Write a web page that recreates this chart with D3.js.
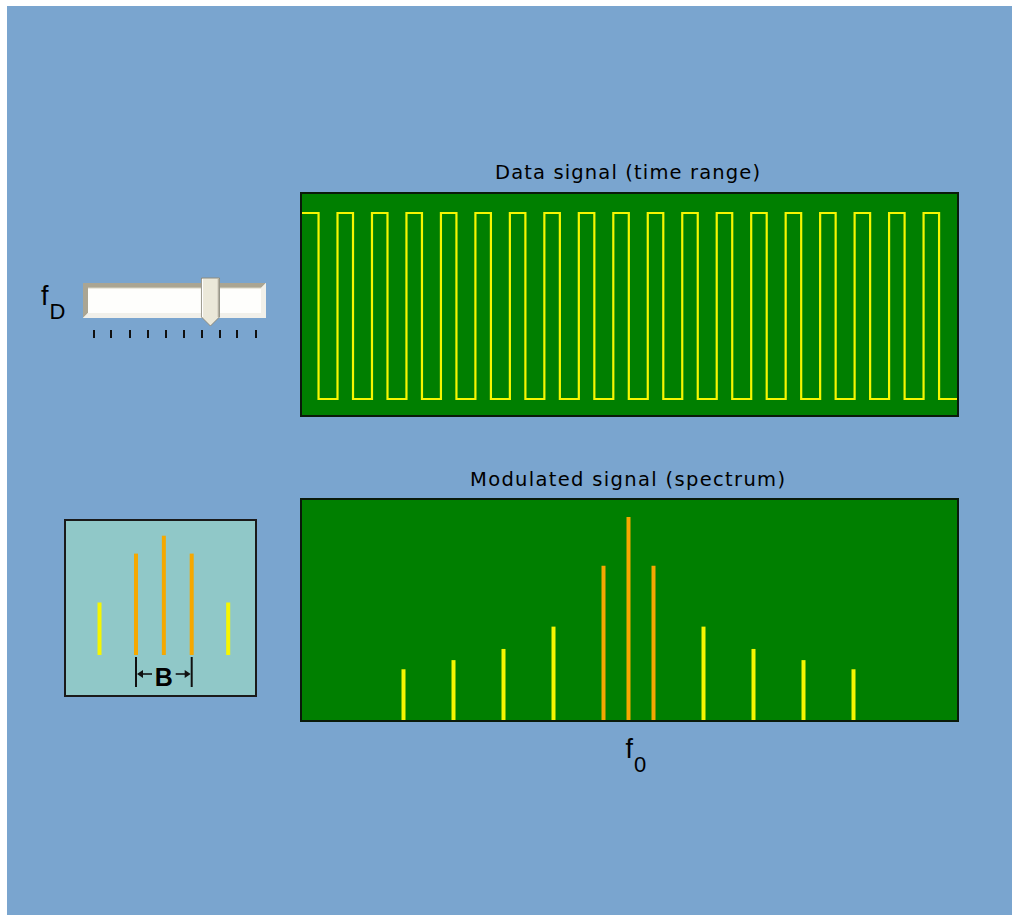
<!DOCTYPE html>
<html>
<head>
<meta charset="utf-8">
<script src="https://cdn.jsdelivr.net/npm/d3@7"></script>
<style>
  html, body { margin: 0; padding: 0; background: #ffffff; }
  svg { display: block; }
  text { font-family: "Liberation Sans", Arial, sans-serif; fill: #000; }
  text.title { font-family: "DejaVu Sans", Verdana, sans-serif; fill: #000; }
</style>
</head>
<body>
<div id="chart"></div>
<script>
// ---------------- DATA ----------------
// Data signal (time range): square wave as [time, level] steps
const waveTimes  = [0, 0.48, 1.03, 1.48, 2.03, 2.48, 3.03, 3.48, 4.03, 4.48, 5.03, 5.48, 6.03, 6.48, 7.03, 7.48, 8.03, 8.48, 9.03, 9.48, 10.03, 10.48, 11.03, 11.48, 12.03, 12.48, 13.03, 13.48, 14.03, 14.48, 15.03, 15.48, 16.03, 16.48, 17.03, 17.48, 18.03, 18.48, 19];
const waveLevels = [1, 0, 1, 0, 1, 0, 1, 0, 1, 0, 1, 0, 1, 0, 1, 0, 1, 0, 1, 0, 1, 0, 1, 0, 1, 0, 1, 0, 1, 0, 1, 0, 1, 0, 1, 0, 1, 0, 0];

// Modulated signal (spectrum): spectral lines around f0
const specOffsets    = [-9, -7, -5, -3, -1, 0, 1, 3, 5, 7, 9];
const specAmplitudes = [0.25, 0.295, 0.35, 0.46, 0.76, 1.0, 0.76, 0.46, 0.35, 0.295, 0.25];
const specInBand     = [false, false, false, false, true, true, true, false, false, false, false];

// Legend (bandwidth B) schematic lines
const legendOffsets    = [-2.31, -1, 0, 1, 2.31];
const legendAmplitudes = [0.44, 0.85, 1.0, 0.85, 0.44];
const legendInBand     = [false, true, true, true, false];

// Slider f_D
const sliderTicks = [0, 1, 2, 3, 4, 5, 6, 7, 8, 9];
const sliderValue = 6.47;

// Texts
const titleTop = "Data signal (time range)";
const titleBottom = "Modulated signal (spectrum)";

// ---------------- DRAW ----------------
(function () {
const W = 1012, H = 915;
const svg = d3.select("#chart").append("svg").attr("width", W).attr("height", H);

const BG = "#7aa5cf", GREEN = "#007f00", YEL = "#f6f600", ORA = "#f5a800";

svg.append("rect").attr("x", 7).attr("y", 6).attr("width", W - 7).attr("height", H - 6).attr("fill", BG);

// ---- Top panel: data signal ----
const pTop = { x0: 301, x1: 958, y0: 193, y1: 416 };
svg.append("rect").attr("x", pTop.x0).attr("y", pTop.y0)
  .attr("width", pTop.x1 - pTop.x0).attr("height", pTop.y1 - pTop.y0)
  .attr("fill", GREEN).attr("stroke", "#0a1a0a").attr("stroke-width", 2);

const xT = d3.scaleLinear().domain([0, 19]).range([pTop.x0 + 1, pTop.x1 - 1]);
const yT = d3.scaleLinear().domain([0, 1]).range([399, 213]);
const wave = waveTimes.map((t, i) => [t, waveLevels[i]]);
svg.append("path")
  .attr("d", d3.line().x(d => xT(d[0])).y(d => yT(d[1])).curve(d3.curveStepAfter)(wave))
  .attr("fill", "none").attr("stroke", YEL).attr("stroke-width", 2.2);

svg.append("text").attr("class", "title").attr("x", 627.5).attr("y", 179).attr("text-anchor", "middle")
  .attr("font-size", 19.5).attr("textLength", 265).attr("lengthAdjust", "spacing")
  .text(titleTop);

// ---- Bottom panel: spectrum ----
const pBot = { x0: 301, x1: 958, y0: 499, y1: 721 };
svg.append("rect").attr("x", pBot.x0).attr("y", pBot.y0)
  .attr("width", pBot.x1 - pBot.x0).attr("height", pBot.y1 - pBot.y0)
  .attr("fill", GREEN).attr("stroke", "#0a1a0a").attr("stroke-width", 2);

const xS = d3.scaleLinear().domain([-13.1, 13.18]).range([pBot.x0, pBot.x1]);
const yS = d3.scaleLinear().domain([0, 1]).range([720, 517]);
svg.append("g").selectAll("line").data(specOffsets).join("line")
  .attr("x1", d => xS(d)).attr("x2", d => xS(d))
  .attr("y1", yS(0)).attr("y2", (d, i) => yS(specAmplitudes[i]))
  .attr("stroke", (d, i) => specInBand[i] ? ORA : YEL)
  .attr("stroke-width", 4);

svg.append("text").attr("class", "title").attr("x", 627.5).attr("y", 486).attr("text-anchor", "middle")
  .attr("font-size", 19.5).attr("textLength", 315).attr("lengthAdjust", "spacing")
  .text(titleBottom);

// f0 label
const f0 = svg.append("text").attr("x", xS(0) - 3).attr("y", 758).attr("font-size", 27);
f0.append("tspan").text("f");
f0.append("tspan").attr("font-size", 22).attr("dy", 14).attr("dx", 1).text("0");

// ---- Slider f_D ----
const fD = svg.append("text").attr("x", 41).attr("y", 305).attr("font-size", 27);
fD.append("tspan").text("f");
fD.append("tspan").attr("font-size", 22).attr("dy", 14).attr("dx", 1).text("D");

const sx0 = 83, sx1 = 266, sy0 = 283, sy1 = 318, bw = 5;
svg.append("rect").attr("x", sx0).attr("y", sy0).attr("width", sx1 - sx0).attr("height", sy1 - sy0).attr("fill", "#fefefc");
svg.append("polygon")
  .attr("points", [[sx0, sy1], [sx0, sy0], [sx1, sy0], [sx1 - bw, sy0 + bw], [sx0 + bw, sy0 + bw], [sx0 + bw, sy1 - bw]].join(" "))
  .attr("fill", "#aaa593");
svg.append("polygon")
  .attr("points", [[sx0, sy1], [sx1, sy1], [sx1, sy0], [sx1 - bw, sy0 + bw], [sx1 - bw, sy1 - bw], [sx0 + bw, sy1 - bw]].join(" "))
  .attr("fill", "#f1f0ea");
svg.append("line").attr("x1", sx0 + bw).attr("y1", sy0 + bw).attr("x2", sx1 - bw).attr("y2", sy0 + bw)
  .attr("stroke", "#d8d4c4").attr("stroke-width", 1);

const xSl = d3.scaleLinear().domain([0, 9]).range([93.5, 255.5]);
svg.append("g").selectAll("line").data(sliderTicks).join("line")
  .attr("x1", d => Math.round(xSl(d))).attr("x2", d => Math.round(xSl(d)))
  .attr("y1", 330).attr("y2", 338)
  .attr("stroke", "#111").attr("stroke-width", 2);

const kx = xSl(sliderValue);
svg.append("polygon")
  .attr("points", [[kx - 8.5, 278], [kx + 9.5, 278], [kx + 9.5, 317], [kx + 0.5, 326], [kx - 8.5, 317]].join(" "))
  .attr("fill", "#ebe8d9").attr("stroke", "#8d8a7e").attr("stroke-width", 1);
svg.append("line").attr("x1", kx - 7.5).attr("y1", 279).attr("x2", kx - 7.5).attr("y2", 317)
  .attr("stroke", "#ffffff").attr("stroke-width", 1.2);
svg.append("line").attr("x1", kx + 8.5).attr("y1", 279).attr("x2", kx + 8.5).attr("y2", 317)
  .attr("stroke", "#b4b0a2").attr("stroke-width", 1.5);

// ---- Legend box ----
svg.append("rect").attr("x", 65).attr("y", 520).attr("width", 191).attr("height", 176)
  .attr("fill", "#90c8c8").attr("stroke", "#1a1a1a").attr("stroke-width", 2);

const xL = d3.scaleLinear().domain([-1, 1]).range([136, 191.7]);
const yL = d3.scaleLinear().domain([0, 1]).range([655, 535.7]);
svg.append("g").selectAll("line").data(legendOffsets).join("line")
  .attr("x1", d => xL(d)).attr("x2", d => xL(d))
  .attr("y1", yL(0)).attr("y2", (d, i) => yL(legendAmplitudes[i]))
  .attr("stroke", (d, i) => legendInBand[i] ? ORA : YEL)
  .attr("stroke-width", 4);

// bandwidth marker
const bL = xL(-1), bR = xL(1), bY = 674;
const g = svg.append("g").attr("stroke", "#111").attr("fill", "#111");
g.append("line").attr("x1", bL).attr("x2", bL).attr("y1", 657).attr("y2", 687).attr("stroke-width", 2);
g.append("line").attr("x1", bR).attr("x2", bR).attr("y1", 657).attr("y2", 687).attr("stroke-width", 2);
g.append("line").attr("x1", bL + 4).attr("x2", bL + 16).attr("y1", bY).attr("y2", bY).attr("stroke-width", 1.6);
g.append("line").attr("x1", bR - 16).attr("x2", bR - 4).attr("y1", bY).attr("y2", bY).attr("stroke-width", 1.6);
g.append("polygon").attr("points", [[bL + 1, bY], [bL + 7, bY - 4], [bL + 7, bY + 4]].join(" ")).attr("stroke", "none");
g.append("polygon").attr("points", [[bR - 1, bY], [bR - 7, bY - 4], [bR - 7, bY + 4]].join(" ")).attr("stroke", "none");
svg.append("text").attr("x", (bL + bR) / 2).attr("y", 686).attr("text-anchor", "middle")
  .attr("font-size", 25).attr("font-weight", "bold").text("B");
})();
</script>
</body>
</html>
